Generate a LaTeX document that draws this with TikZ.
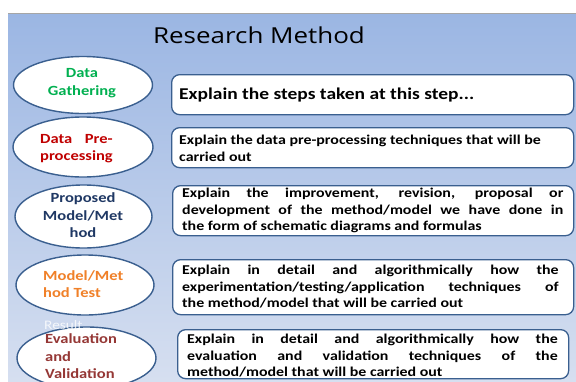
\documentclass[tikz,border=0pt]{standalone}
\usepackage{fontspec}
\usepackage{graphicx}
\setmainfont{Carlito}
\newfontfamily\titlefont{Open Sans}
\usetikzlibrary{shapes.geometric}
\definecolor{bgtop}{RGB}{155,182,227}
\definecolor{bgbot}{RGB}{214,223,240}
\definecolor{edge}{RGB}{58,95,143}
\definecolor{cgreen}{RGB}{0,176,80}
\definecolor{cred}{RGB}{192,0,0}
\definecolor{cnavy}{RGB}{31,56,100}
\definecolor{corange}{RGB}{240,128,40}
\definecolor{cdred}{RGB}{149,55,53}
\newcommand\hx[1]{\scalebox{1.18}[1]{#1}}
\newcommand\jpar[2]{\hx{\parbox{#1}{\hyphenpenalty=10000\exhyphenpenalty=10000 #2}}}
\newcommand\ctab[1]{\hx{\begin{tabular}{@{}c@{}}#1\end{tabular}}}
\newcommand\ltab[1]{\hx{\begin{tabular}{@{}l@{}}#1\end{tabular}}}
\begin{document}
\begin{tikzpicture}[x=1pt,y=-1pt,
  oval/.style={ellipse, draw=edge, line width=1.4pt, fill=white, inner sep=0pt},
  otext/.style={font=\fontsize{14}{17.5}\selectfont\bfseries, inner sep=0pt},
  box/.style={draw=edge, line width=1.3pt, fill=white, rounded corners=8pt, anchor=north west, inner sep=0pt},
  btext/.style={font=\fontsize{13.5}{16.5}\selectfont\bfseries, inner sep=0pt, anchor=west}]
\useasboundingbox (0,0) rectangle (576,381);
\clip (0,0) rectangle (576,381);
\shade[top color=bgtop, bottom color=bgbot] (8,13) rectangle (576,381);
\draw[gray!70, line width=1pt] (8,13.5) -- (576,13.5);
\node[font=\titlefont\fontsize{22}{26}\selectfont, inner sep=0pt] (title) at (259,35) {\hx{Research Method}};

% ellipses
\node[oval, minimum width=139pt, minimum height=57pt] (e1) at (83,85) {};
\node[oval, minimum width=140pt, minimum height=60pt] (e2) at (83,147) {};
\node[oval, minimum width=137pt, minimum height=63pt] (e3) at (83.5,216.5) {};
\node[oval, minimum width=138pt, minimum height=60pt] (e4) at (85,285) {};
\node[oval, minimum width=139pt, minimum height=62pt] (e5) at (86.5,358) {};

\node[otext, text=cgreen] (t1) at (82,83) {\ctab{Data\\Gathering}};
\node[otext, text=cred, anchor=west] (t2) at (40,148.5)
  {\ltab{\setbox0\hbox{processing}\hbox to \wd0{Data\hfill Pre-}\\processing}};
\node[otext, text=cnavy] (t3) at (83,216.5) {\ctab{Proposed\\Model/Met\\hod}};
\node[otext, text=corange, anchor=west] (t4) at (43,285.5) {\ltab{Model/Met\\hod Test}};
\node[otext, text=cdred, anchor=west] (t5) at (45,357.5) {\ltab{Evaluation\\and\\Validation}};
\node[font=\fontsize{13}{15}\selectfont, text=white, text opacity=0.8, anchor=west, inner sep=0pt] (res) at (44,325) {\hx{Result}};

% boxes
\node[box, minimum width=402pt, minimum height=40pt] (b1) at (171,74) {};
\node[box, minimum width=402pt, minimum height=40pt] (b2) at (171,127) {};
\node[box, minimum width=401pt, minimum height=50pt] (b3) at (172,185) {};
\node[box, minimum width=401pt, minimum height=55pt] (b4) at (172,259) {};
\node[box, minimum width=391pt, minimum height=49pt] (b5) at (177,329) {};

\node[btext, font=\fontsize{16.5}{19}\selectfont\bfseries] (x1) at (179,95)
  {\hx{Explain the steps taken at this step...}};
\node[btext] (x2) at (179,148.5)
  {\jpar{325pt}{Explain the data pre-processing techniques that will be\\carried out}};
\node[btext] (x3) at (182,210.5)
  {\jpar{323pt}{Explain the improvement, revision, proposal or development of the method/model we have done in the form of schematic diagrams and formulas}};
\node[btext] (x4) at (182,287)
  {\jpar{319pt}{Explain in detail and algorithmically how the experimentation/testing/application techniques of the method/model that will be carried out}};
\node[btext] (x5) at (187,356)
  {\jpar{314pt}{Explain in detail and algorithmically how the\linebreak evaluation and validation techniques of the\linebreak method/model that will be carried out}};
\end{tikzpicture}
\end{document}
